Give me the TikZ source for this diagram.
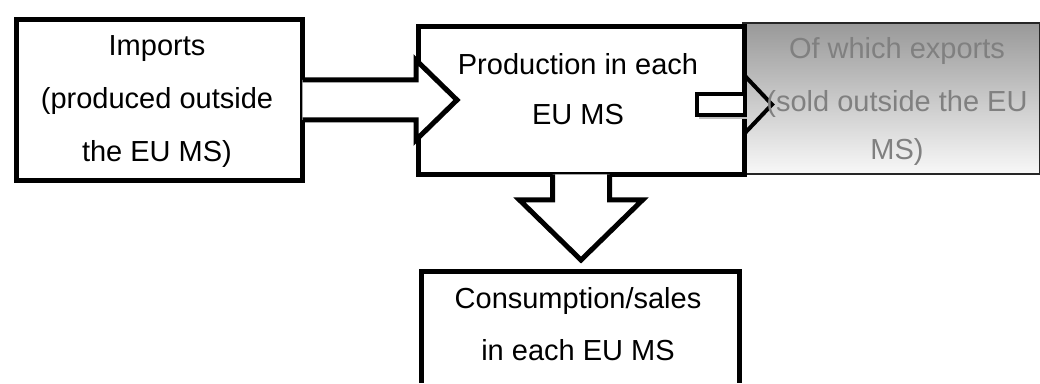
\documentclass[tikz,border=0pt]{standalone}
\usepackage{fontspec}
\setmainfont{Liberation Sans}
\usetikzlibrary{calc}
\definecolor{exptext}{HTML}{808080}
\definecolor{gradtop}{HTML}{999999}
\definecolor{gradbot}{HTML}{F8F8F8}
\tikzset{
  box/.style={draw=black, line width=2.5pt, fill=white, inner sep=0pt, anchor=north west},
  expbox/.style={draw=black!85, line width=1pt, top color=gradtop, bottom color=gradbot, inner sep=0pt, anchor=north west},
  txt/.style={font=\fontsize{14.5pt}{26pt}\selectfont, anchor=base, inner sep=0pt},
  gtxt/.style={txt, text=exptext},
  blockarrow/.style={draw=black, line width=2.5pt, line join=miter},
  smallarrow/.style={draw=black, line width=2pt, line join=miter}
}
\begin{document}
\begin{tikzpicture}[x=0.5pt,y=-0.5pt]
\useasboundingbox (0,0) rectangle (1040,384);
\clip (0,0) rectangle (1040,382.5);
% boxes
\node[expbox, minimum width=148.5pt, minimum height=75.5pt] (exp) at (742,22) {};
\node[box, minimum width=143pt, minimum height=80.5pt] (imp) at (14,17) {};
\node[box, minimum width=163pt, minimum height=74pt] (prod) at (416,24) {};
\node[box, minimum width=159pt, minimum height=110pt] (cons) at (419,269) {};
% import block arrow
\coordinate (a1) at (imp.east);
\coordinate (a2) at (prod.west |- imp.east);
\fill[white] ($(a1)+(-2.6,-20)$) -- ($(a2)+(0,-20)$) -- ($(a2)+(0,-40)$) -- ($(a2)+(41,0)$) -- ($(a2)+(0,40)$) -- ($(a2)+(0,20)$) -- ($(a1)+(-2.6,20)$) -- cycle;
\draw[blockarrow] ($(a1)+(-2.5,-20)$) -- ($(a2)+(0,-20)$) -- ($(a2)+(0,-40)$) -- ($(a2)+(41,0)$) -- ($(a2)+(0,40)$) -- ($(a2)+(0,20)$) -- ($(a1)+(-2.5,20)$);
% down block arrow
\coordinate (d1) at ($(prod.south)+(-0.5,0)$);
\fill[white] ($(d1)+(-28.5,-2.6)$) -- ($(d1)+(-28.5,23)$) -- ($(d1)+(-61.5,23)$) -- ($(d1)+(0,83)$) -- ($(d1)+(61.5,23)$) -- ($(d1)+(28.5,23)$) -- ($(d1)+(28.5,-2.6)$) -- cycle;
\draw[blockarrow] ($(d1)+(-28.5,-2.5)$) -- ($(d1)+(-28.5,23)$) -- ($(d1)+(-61.5,23)$) -- ($(d1)+(0,83)$) -- ($(d1)+(61.5,23)$) -- ($(d1)+(28.5,23)$) -- ($(d1)+(28.5,-2.5)$);
% small export arrow
\coordinate (e1) at ($(prod.east)+(-2,4)$);
\fill[black!25] ($(e1)+(-46,-7.5)$) rectangle ($(e1)+(2,14.5)$);
\filldraw[smallarrow, fill=white] ($(e1)+(-48,-10.5)$) rectangle ($(e1)+(0,10.5)$);
\draw[smallarrow] ($(e1)+(0,-28.5)$) -- ($(e1)+(27,0)$) -- ($(e1)+(0,28.5)$);
% texts
\node[txt] (impT1) at (157,56) {Imports};
\node[txt] (impT2) at (157,109) {(produced outside};
\node[txt] (impT3) at (157,162) {the EU MS)};
\node[txt] (prodT1) at (578,75) {Production in each};
\node[txt] (prodT2) at (578,125) {EU MS};
\node[gtxt] (expT1) at (897,59) {Of which exports};
\node[gtxt] (expT2) at (897,112) {(sold outside the EU};
\node[gtxt] (expT3) at (897,160) {MS)};
\node[txt] (consT1) at (578,309) {Consumption/sales};
\node[txt] (consT2) at (578,361) {in each EU MS};
\end{tikzpicture}
\end{document}
